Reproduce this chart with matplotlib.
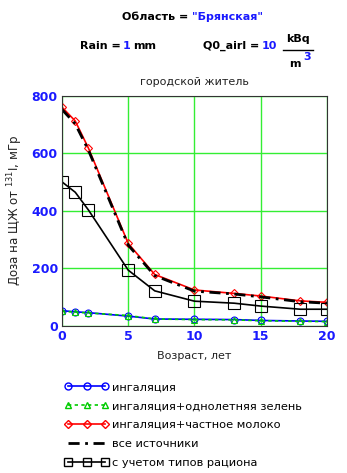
import matplotlib
matplotlib.use("Agg")
import matplotlib.pyplot as plt
from matplotlib.lines import Line2D

plt.rcParams['font.family'] = ['DejaVu Sans']

# age, years
age = [0, 1, 2, 5, 7, 10, 13, 15, 18, 20]
# thyroid dose from 131I, mGy
inhal = [52, 48, 45, 33, 23, 22, 21, 18, 16, 15]
inhal_veg = [50, 47, 44, 35, 23, 21, 20, 17, 15, 14]
inhal_milk = [760, 712, 617, 286, 178, 124, 112, 103, 86, 81]
all_src = [752, 702, 610, 280, 174, 120, 110, 100, 83, 78]
diet_types = [500, 464, 402, 193, 121, 85, 78, 68, 57, 57]

labels = ['ингаляция', 'ингаляция+однолетняя зелень', 'ингаляция+частное молоко',
          'все источники', 'с учетом типов рациона']

blue = '#1a1aff'
fig = plt.figure(figsize=(3.47, 4.73), dpi=100)
ax = fig.add_axes([0.1787, 0.3116, 0.7633, 0.4861])

ax.plot(age, inhal, color='#0000ff', lw=1.2, marker='o', ms=5, mfc='none', mec='#0000ff', mew=0.8)
ax.plot(age, inhal_veg, color='#00cc00', lw=1.2, ls=(0, (2, 2)), marker='^', ms=5, mfc='none', mec='#00cc00', mew=0.8)
ax.plot(age, inhal_milk, color='#ff0000', lw=1.2, marker='D', ms=4, mfc='none', mec='#ff0000', mew=0.8)
ax.plot(age, all_src, color='black', lw=2, ls=(0, (4, 2, 1, 2)))
ax.plot(age, diet_types, color='black', lw=1.2, marker='s', ms=8, mfc='none', mec='black', mew=0.8)

ax.set_xlim(0, 20)
ax.set_ylim(0, 800)
ax.set_xticks([0, 5, 10, 15, 20])
ax.set_yticks([0, 200, 400, 600, 800])
ax.grid(True, color='#33ee33', lw=1)
ax.set_axisbelow(True)
for s in ax.spines.values():
    s.set_color('#333333')
ax.tick_params(length=0, pad=3, labelsize=9, labelcolor=blue)
for t in ax.get_xticklabels() + ax.get_yticklabels():
    t.set_fontweight('bold')
ax.set_xlabel('Возраст, лет', fontsize=8, labelpad=6, color='#222222')
ax.set_ylabel('Доза на ЩЖ от $^{131}$I, мГр', fontsize=8.5, labelpad=5, color='#222222')
ax.set_title('городской житель', fontsize=8, pad=8, color='#222222')

# header
hs = 8
fig.text(0.553, 0.964, 'Область = ', ha='right', va='center', fontsize=hs, fontweight='bold')
fig.text(0.553, 0.964, '"Брянская"', ha='left', va='center', fontsize=hs, fontweight='bold', color=blue)
fig.text(0.348, 0.903, 'Rain =', ha='right', va='center', fontsize=hs, fontweight='bold')
fig.text(0.354, 0.903, '1', ha='left', va='center', fontsize=hs, fontweight='bold', color=blue)
fig.text(0.385, 0.903, 'mm', ha='left', va='center', fontsize=hs, fontweight='bold')
fig.text(0.748, 0.903, 'Q0_airl =', ha='right', va='center', fontsize=hs, fontweight='bold')
fig.text(0.755, 0.903, '10', ha='left', va='center', fontsize=hs, fontweight='bold', color=blue)
fig.text(0.859, 0.917, 'kBq', ha='center', va='center', fontsize=hs, fontweight='bold')
fig.add_artist(Line2D([0.816, 0.902], [0.894, 0.894], color='black', lw=1))
fig.text(0.85, 0.865, 'm', ha='center', va='center', fontsize=hs, fontweight='bold')
fig.text(0.884, 0.879, '3', ha='center', va='center', fontsize=hs, fontweight='bold', color=blue)

handles = [
    Line2D([], [], color='#0000ff', lw=1.2, marker='o', ms=5, mfc='none', mec='#0000ff'),
    Line2D([], [], color='#00cc00', lw=1.2, ls=(0, (2, 2)), marker='^', ms=5, mfc='none', mec='#00cc00'),
    Line2D([], [], color='#ff0000', lw=1.2, marker='D', ms=4, mfc='none', mec='#ff0000'),
    Line2D([], [], color='black', lw=2, ls=(0, (4, 2, 1, 2))),
    Line2D([], [], color='black', lw=1.2, marker='s', ms=6, mfc='none', mec='black'),
]
fig.legend(handles, labels, loc='upper left', bbox_to_anchor=(0.187, 0.192), frameon=False,
           fontsize=8.2, handlelength=3.8, numpoints=3, labelspacing=0.78, handletextpad=0.35,
           borderpad=0, borderaxespad=0)

fig.savefig('out.png', dpi=100)
